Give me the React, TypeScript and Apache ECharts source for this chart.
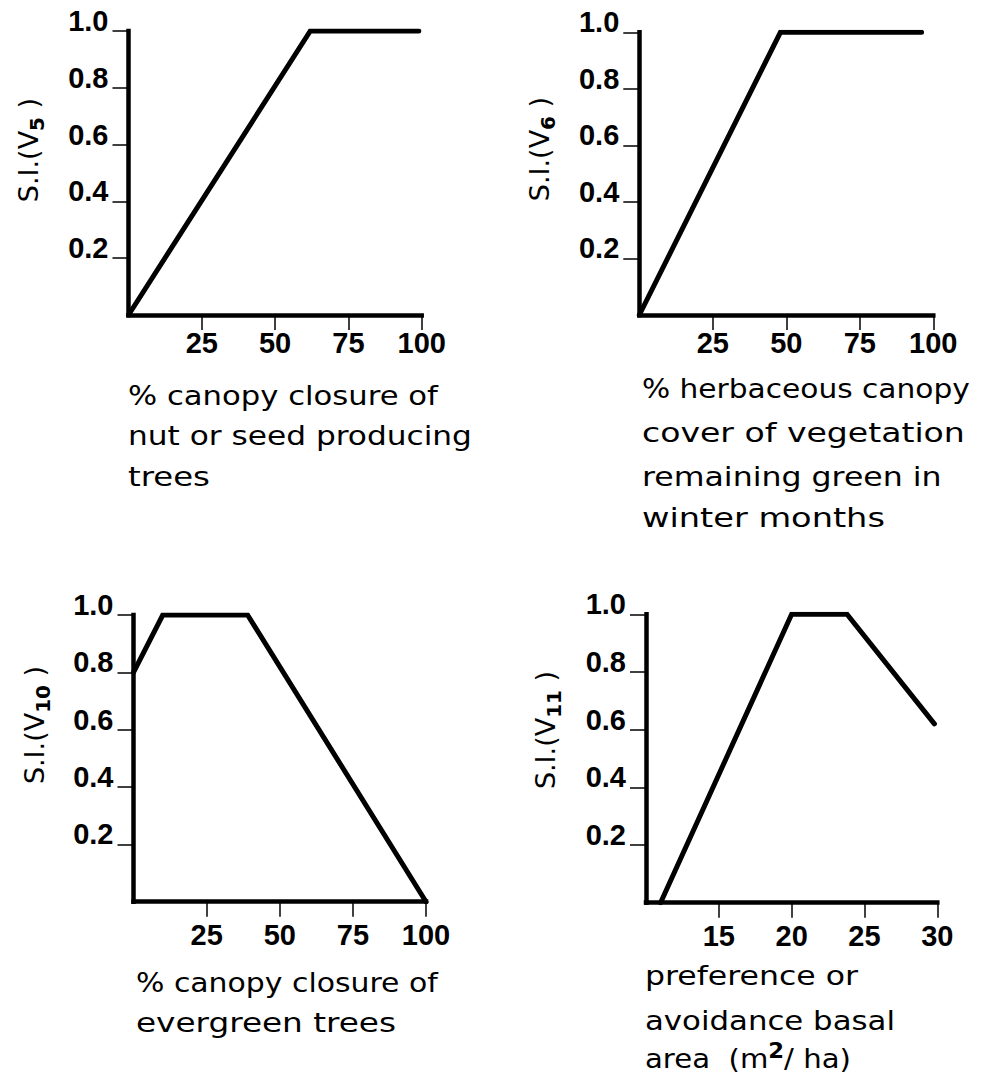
import React, { useEffect, useRef } from "react";
import * as echarts from "echarts";

// S.I. curves
const v5X = [0, 62, 99];
const v5Y = [0, 1.0, 1.0];
const v6X = [0, 48, 96];
const v6Y = [0, 1.0, 1.0];
const v10X = [0, 10, 39, 100];
const v10Y = [0.8, 1.0, 1.0, 0];
const v11X = [11, 20, 23.8, 29.8];
const v11Y = [0, 1.0, 1.0, 0.62];

// tick values
const siTicks = [0.2, 0.4, 0.6, 0.8, 1.0];
const pctTicks = [25, 50, 75, 100];
const basalTicks = [15, 20, 25, 30];

// axis titles
const yNames = [
  ["S.I.(V", "5", " )"],
  ["S.I.(V", "6", " )"],
  ["S.I.(V", "10", " )"],
  ["S.I.(V", "11", " )"],
];
const caption1 = ["% canopy closure of", "nut or seed producing", "trees"];
const caption2 = ["% herbaceous canopy", "cover of vegetation", "remaining green in", "winter months"];
const caption3 = ["% canopy closure of", "evergreen trees"];
const caption4 = ["preference or", "avoidance basal"];

const NUM_FONT = '"Liberation Sans", Arial, sans-serif';
const TXT_FONT = '"DejaVu Sans", sans-serif';
const CAP_SIZE = 27;

export default function App() {
  const ref = useRef<HTMLDivElement>(null);
  useEffect(() => {
    if (!ref.current) return;
    const chart = echarts.init(ref.current, undefined, { renderer: "svg" });

    const ctx = document.createElement("canvas").getContext("2d");
    const measure = (t: string) => {
      if (!ctx) return 0;
      ctx.font = `${CAP_SIZE}px "DejaVu Sans"`;
      return ctx.measureText(t).width;
    };

    const grids = [
      { left: 128.5, top: 31, width: 293.2, height: 284 },
      { left: 639.3, top: 32.3, width: 294, height: 282.7 },
      { left: 133.5, top: 615, width: 292.5, height: 286.7 },
      { left: 646, top: 614.3, width: 291.3, height: 288.4 },
    ];
    const xRanges = [
      [0, 100, pctTicks],
      [0, 100, pctTicks],
      [0, 100, pctTicks],
      [10, 30, basalTicks],
    ] as const;
    const xMargins = [13, 13, 19, 19];
    const seriesData = [
      [v5X, v5Y],
      [v6X, v6Y],
      [v10X, v10Y],
      [v11X, v11Y],
    ];

    const axisLineStyle = { color: "#000", width: 4.5, cap: "square" as const };
    const tickStyle = { color: "#000", width: 1.5 };
    const numLabel = {
      color: "#000",
      fontFamily: NUM_FONT,
      fontWeight: "bold" as const,
      fontSize: 29,
    };

    const xAxis = grids.map((_, i) => ({
      type: "value" as const,
      gridIndex: i,
      min: xRanges[i][0],
      max: xRanges[i][1],
      splitLine: { show: false },
      axisLine: { show: true, onZero: false, lineStyle: axisLineStyle },
      axisTick: {
        show: true,
        length: 15,
        lineStyle: tickStyle,
        customValues: xRanges[i][2] as unknown as number[],
      },
      axisLabel: {
        ...numLabel,
        margin: xMargins[i],
        customValues: xRanges[i][2] as unknown as number[],
        formatter: (v: number) => String(v),
      },
    }));

    const yAxis = grids.map((_, i) => ({
      type: "value" as const,
      gridIndex: i,
      min: 0,
      max: 1,
      splitLine: { show: false },
      axisLine: { show: true, onZero: false, lineStyle: axisLineStyle },
      axisTick: { show: true, length: 16, lineStyle: tickStyle, customValues: siTicks },
      axisLabel: {
        ...numLabel,
        margin: 20,
        verticalAlign: "bottom" as const,
        lineHeight: 20,
        customValues: siTicks,
        formatter: (v: number) => v.toFixed(1),
      },
    }));

    const series = seriesData.map(([xs, ys], i) => ({
      type: "line" as const,
      xAxisIndex: i,
      yAxisIndex: i,
      data: xs.map((x, k) => [x, ys[k]]),
      showSymbol: false,
      symbol: "none",
      lineStyle: { color: "#000", width: 5, cap: "round" as const, join: "miter" as const },
      silent: true,
    }));

    const nameRich = {
      a: { fontFamily: TXT_FONT, fontSize: 27, color: "#000" },
      s: {
        fontFamily: TXT_FONT,
        fontSize: 20,
        fontWeight: "bold" as const,
        color: "#000",
        padding: [18, 0, 0, 0],
      },
    };
    const namePos = [
      [28, 150],
      [539, 149],
      [34, 725],
      [545, 730],
    ];
    const nameEls = yNames.map((parts, i) => ({
      type: "text" as const,
      x: namePos[i][0],
      y: namePos[i][1],
      rotation: Math.PI / 2,
      style: {
        text: `{a|${parts[0]}}{s|${parts[1]}}{a|${parts[2]}}`,
        rich: nameRich,
        align: "center" as const,
        verticalAlign: "middle" as const,
      },
    }));

    const capStyle = { fontFamily: TXT_FONT, fontSize: CAP_SIZE, fill: "#000" };
    // each caption line is stretched to the width it has in the reference
    const capLines = (lines: string[], x: number, baselines: number[], widths: number[]) =>
      lines.map((t, k) => {
        const w = measure(t);
        const sx = w > 0 ? Math.min(1.35, Math.max(0.9, widths[k] / w)) : 1.14;
        return {
          type: "text" as const,
          x,
          y: baselines[k] - 9,
          scaleX: sx,
          style: { ...capStyle, text: t, align: "left" as const, verticalAlign: "middle" as const },
        };
      });

    const graphic = [
      ...nameEls,
      ...capLines(caption1, 128, [405, 445, 485], [310, 344, 82]),
      ...capLines(caption2, 642, [398, 442, 486, 527], [328, 323, 300, 243]),
      ...capLines(caption3, 136, [992, 1032], [302, 260]),
      ...capLines(caption4, 645, [985, 1030], [213, 250]),
      {
        type: "text" as const,
        x: 645,
        y: 1068 - 9,
        scaleX: 1.08,
        style: {
          text: "{a|area  (m}{p|2}{a|/ ha)}",
          align: "left" as const,
          verticalAlign: "middle" as const,
          rich: {
            a: { fontFamily: TXT_FONT, fontSize: CAP_SIZE, color: "#000" },
            p: {
              fontFamily: TXT_FONT,
              fontSize: 21,
              fontWeight: "bold" as const,
              color: "#000",
              padding: [0, 0, 16, 0],
            },
          },
        },
      },
    ];

    chart.setOption({
      animation: false,
      backgroundColor: "#fff",
      grid: grids.map((g) => ({ ...g, containLabel: false })),
      xAxis,
      yAxis,
      series,
      graphic,
    });
    return () => chart.dispose();
  }, []);

  return (
    <div
      ref={ref}
      style={{ position: "absolute", left: 0, top: 0, width: 987, height: 1080, background: "#fff" }}
    />
  );
}
